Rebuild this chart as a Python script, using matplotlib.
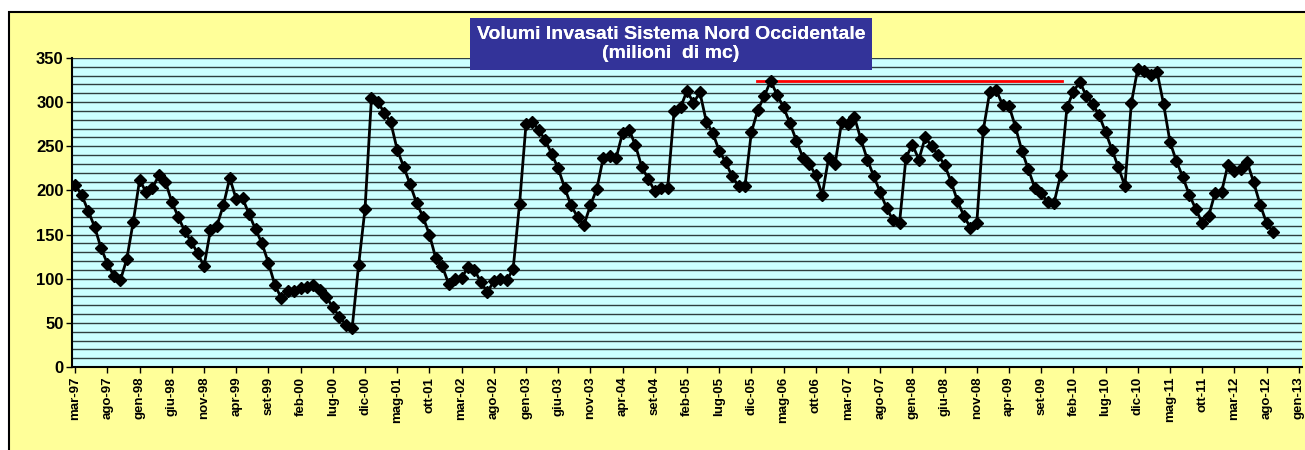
import matplotlib
matplotlib.use("Agg")
import matplotlib.pyplot as plt
from matplotlib.patches import Rectangle

plt.rcParams['font.family'] = ['Liberation Sans', 'DejaVu Sans']

# volumi mensili (milioni di mc), da mar-97 a set-12
volumi = [
    206, 195, 177, 159, 135, 117, 103, 98, 122, 164,                 # 1997 (mar-dic)
    212, 198, 203, 217, 210, 187, 170, 154, 142, 129, 114, 155,      # 1998
    160, 183, 214, 190, 191, 173, 156, 140, 118, 93, 78, 86,         # 1999
    86, 90, 91, 93, 87, 79, 68, 57, 48, 44, 115, 179,                # 2000
    305, 300, 288, 277, 246, 227, 207, 186, 170, 150, 123, 114,      # 2001
    94, 100, 101, 113, 110, 96, 85, 97, 100, 98, 111, 185,           # 2002
    275, 278, 268, 257, 241, 225, 203, 183, 170, 161, 183, 202,      # 2003
    237, 239, 237, 265, 269, 251, 226, 213, 199, 203, 203, 290,      # 2004
    294, 313, 299, 311, 278, 265, 245, 232, 216, 205, 205, 266,      # 2005
    291, 307, 324, 308, 294, 276, 256, 237, 230, 217, 195, 237,      # 2006
    230, 277, 275, 283, 258, 235, 216, 198, 180, 166, 163, 237,      # 2007
    252, 235, 260, 250, 240, 229, 210, 188, 171, 158, 163, 268,      # 2008
    311, 314, 297, 296, 272, 245, 224, 203, 197, 187, 186, 217,      # 2009
    294, 312, 323, 307, 298, 285, 266, 246, 226, 205, 299, 338,      # 2010
    335, 331, 334, 298, 255, 233, 215, 195, 179, 163, 171, 197,      # 2011
    198, 229, 222, 224, 232, 209, 184, 163, 153,                     # 2012 (gen-set)
]

etichette = ['mar-97', 'ago-97', 'gen-98', 'giu-98', 'nov-98', 'apr-99', 'set-99',
             'feb-00', 'lug-00', 'dic-00', 'mag-01', 'ott-01', 'mar-02', 'ago-02',
             'gen-03', 'giu-03', 'nov-03', 'apr-04', 'set-04', 'feb-05', 'lug-05',
             'dic-05', 'mag-06', 'ott-06', 'mar-07', 'ago-07', 'gen-08', 'giu-08',
             'nov-08', 'apr-09', 'set-09', 'feb-10', 'lug-10', 'dic-10', 'mag-11',
             'ott-11', 'mar-12', 'ago-12', 'gen-13']

# linea rossa di riferimento (massimo mar-06), in mesi da mar-97
rif_valore = 324
rif_da = 105.9
rif_a = 153.3

passo = 5
mesi = list(range(len(volumi)))
n_cat = len(etichette) * passo - passo + 1

fig = plt.figure(figsize=(13.05, 4.5), dpi=100)
fig.patch.set_facecolor('white')
fig.patches.append(Rectangle((9 / 1305, -0.02), 1.0, 1 - 12 / 450 + 0.02,
                             transform=fig.transFigure, facecolor='#FFFF99',
                             edgecolor='black', linewidth=1.5, zorder=-10))

ax = fig.add_axes([72 / 1305, 1 - 367 / 450, (1302 - 72) / 1305, (367 - 58) / 450])
ax.set_zorder(1)
ax.set_facecolor('#CCFFFF')

ax.plot(mesi, volumi, color='black', linewidth=2, marker='D', markersize=5.8,
        zorder=3)
ax.plot([rif_da, rif_a], [rif_valore, rif_valore], color='red', linewidth=2, zorder=2)

ax.set_xlim(-0.5, n_cat - 0.5)
ax.set_ylim(0, 350)
ax.set_yticks(range(0, 351, 50))
ax.set_yticks(range(0, 351, 10), minor=True)
ax.grid(axis='y', which='both', color='#2F3F3F', linewidth=1.0)
ax.set_axisbelow(True)

ax.set_xticks([i * passo for i in range(len(etichette))])
ax.set_xticklabels(etichette, rotation=90, fontsize=9.5, fontweight='bold')
for t in ax.get_yticklabels():
    t.set_fontsize(12)
    t.set_fontweight('bold')
ax.tick_params(axis='both', which='major', direction='out', length=4, width=1)
ax.tick_params(axis='y', which='minor', length=0)
ax.tick_params(axis='x', pad=3)
ax.tick_params(axis='y', pad=2)

ax.spines['top'].set_visible(False)
ax.spines['right'].set_visible(False)
ax.spines['left'].set_linewidth(1.5)
ax.spines['bottom'].set_linewidth(1.5)

# riquadro del titolo
fig.patches.append(Rectangle((470 / 1305, 1 - 70 / 450), 402 / 1305, 52 / 450,
                             transform=fig.transFigure, facecolor='#333399',
                             edgecolor='none', zorder=5))
fig.texts.append(fig.text(671 / 1305, 1 - 44 / 450,
                          "Volumi Invasati Sistema Nord Occidentale\n(milioni  di mc)",
                          ha='center', va='center', color='white', fontsize=14,
                          fontweight='bold', linespacing=1.15, zorder=6))

fig.savefig('out.png', dpi=100)
